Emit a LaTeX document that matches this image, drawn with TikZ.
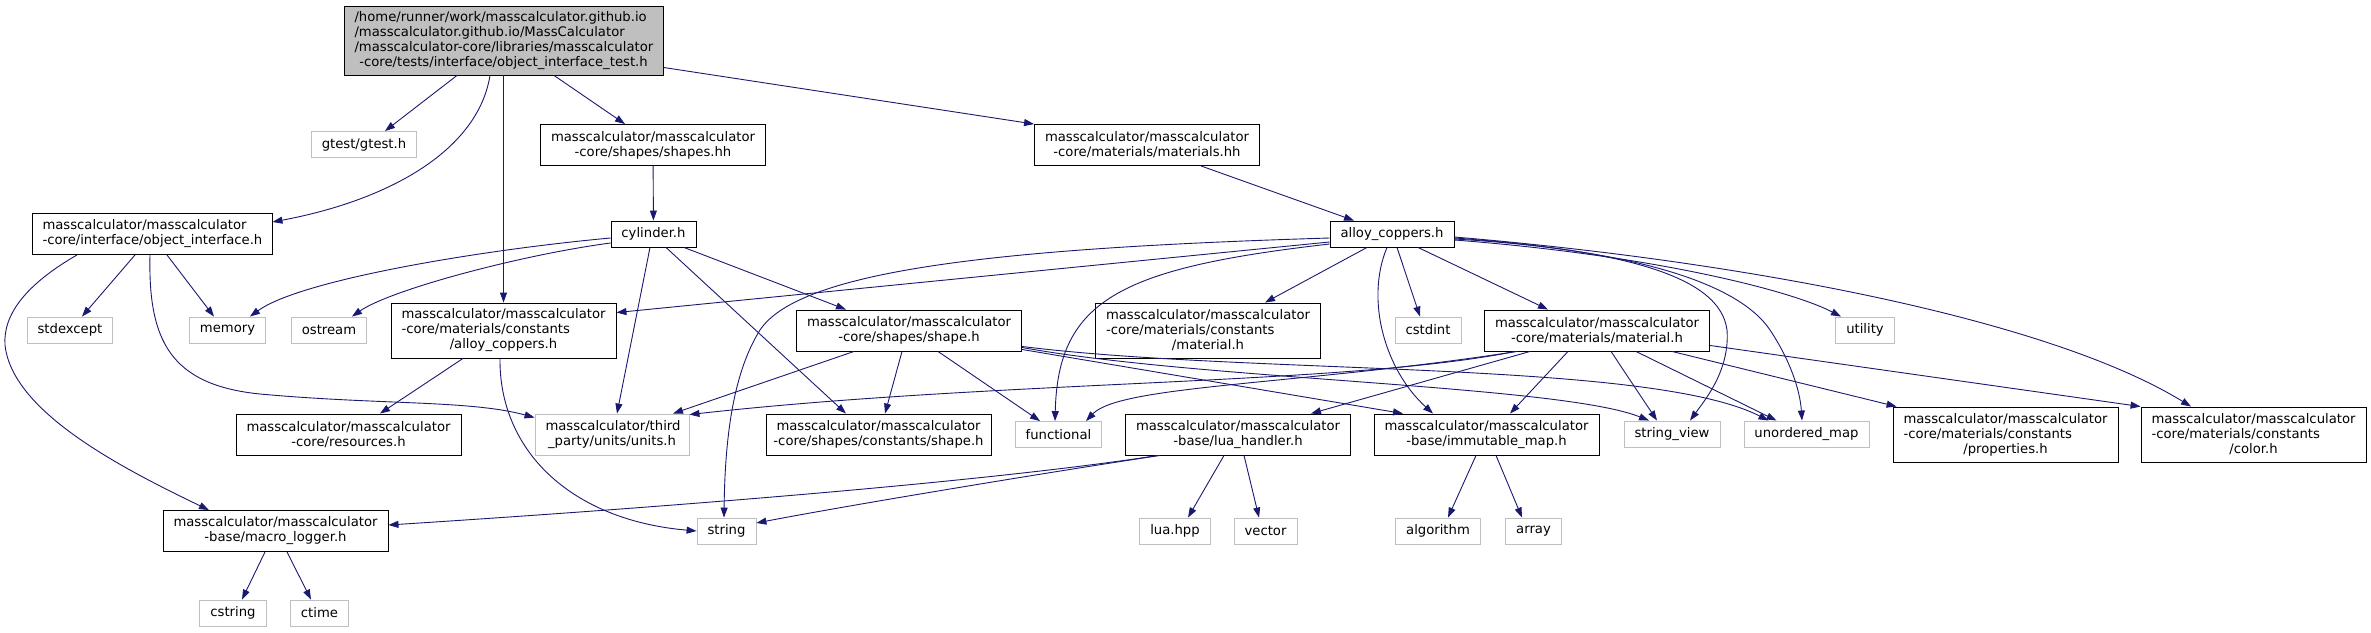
\documentclass[tikz,border=0pt]{standalone}
\usepackage{fontspec}
\setmainfont{DejaVu Sans}
\usetikzlibrary{arrows.meta}
\definecolor{depblue}{RGB}{25,25,112}
\definecolor{extgray}{RGB}{191,191,191}
\newcommand\incfont{\fontsize{13.2}{15}\selectfont\hyphenpenalty=10000 \exhyphenpenalty=10000 }
\newcommand\midline[1]{\makebox[\linewidth][c]{#1}}

\begin{document}
\begin{tikzpicture}[x=1pt, y=-1pt,
  hdr/.style={draw=black, fill=white, font=\incfont, inner xsep=10.5pt, inner ysep=2pt, minimum height=26pt, line width=0.9pt},
  ext/.style={hdr, draw=extgray},
  two/.style={text width=#1, align=left, minimum height=41pt}, two/.default=204pt,
  three/.style={two=#1, minimum height=55pt}, three/.default=204pt,
  dep/.style={draw=depblue, line width=0.9pt, -{Triangle[length=10pt,width=7pt]}}
]
  \useasboundingbox (0,0) rectangle (2371,632);

  % headers
  \node[hdr, fill=extgray, two=298pt, minimum height=69pt] (root) at (503.5,40.5) {/home/runner/work/masscalculator.github.io\\/masscalculator.github.io/MassCalculator\\/masscalculator-core/libraries/masscalculator\\\midline{-core/tests/interface/object\_interface\_test.h}};
  \node[ext] (gtest) at (364,144.5) {gtest/gtest.h};
  \node[hdr, two] (shapeshh) at (653,145) {masscalculator/masscalculator\\\midline{-core/shapes/shapes.hh}};
  \node[hdr, two] (materialshh) at (1147,145) {masscalculator/masscalculator\\\midline{-core/materials/materials.hh}};
  \node[hdr, two=219pt] (objiface) at (152,234) {masscalculator/masscalculator\\-core/interface/object\_interface.h};
  \node[hdr] (cylinder) at (653.5,234) {cylinder.h};
  \node[hdr] (alloy) at (1392,234) {alloy\_coppers.h};

  \node[hdr, three] (cuconst) at (503.5,330.5) {masscalculator/masscalculator\\-core/materials/constants\\\midline{/alloy\_coppers.h}};
  \node[ext] (stdexcept) at (70,330) {stdexcept};
  \node[ext] (memory) at (227.5,330) {memory};
  \node[ext] (ostream) at (329,330) {ostream};
  \node[hdr, two] (shape) at (909,330.5) {masscalculator/masscalculator\\\midline{-core/shapes/shape.h}};
  \node[hdr, three] (matconst) at (1208,330.5) {masscalculator/masscalculator\\-core/materials/constants\\\midline{/material.h}};
  \node[ext] (cstdint) at (1428,330) {cstdint};
  \node[hdr, two] (material) at (1597,330.5) {masscalculator/masscalculator\\\midline{-core/materials/material.h}};
  \node[ext] (utility) at (1865,330) {utility};

  \node[hdr, two] (resources) at (348.5,434.5) {masscalculator/masscalculator\\\midline{-core/resources.h}};
  \node[ext, two=133pt] (units) at (612,434.5) {masscalculator/third\\\midline{\_party/units/units.h}};
  \node[hdr, two] (shapeconst) at (878.5,434.5) {masscalculator/masscalculator\\\midline{-core/shapes/constants/shape.h}};
  \node[ext] (functional) at (1058.5,434.5) {functional};
  \node[hdr, two] (lua) at (1238,434.5) {masscalculator/masscalculator\\\midline{-base/lua\_handler.h}};
  \node[hdr, two] (immut) at (1486.5,434.5) {masscalculator/masscalculator\\\midline{-base/immutable\_map.h}};
  \node[ext] (strview) at (1672,434) {string\_view};
  \node[ext] (umap) at (1806.5,434) {unordered\_map};
  \node[hdr, three] (props) at (2005.5,434.5) {masscalculator/masscalculator\\-core/materials/constants\\\midline{/properties.h}};
  \node[hdr, three] (color) at (2253.5,434.5) {masscalculator/masscalculator\\-core/materials/constants\\\midline{/color.h}};

  \node[hdr, two] (macro) at (275.5,531) {masscalculator/masscalculator\\\midline{-base/macro\_logger.h}};
  \node[ext] (string) at (726.5,531) {string};
  \node[ext] (luahpp) at (1175,531) {lua.hpp};
  \node[ext] (vector) at (1265.5,531) {vector};
  \node[ext] (algorithm) at (1438,531) {algorithm};
  \node[ext] (array) at (1533.5,531) {array};
  \node[ext] (cstring) at (233,613) {cstring};
  \node[ext] (ctime) at (319.5,613) {ctime};

  % includes of the test header
  \draw[dep] ([xshift=-46.5pt]root.south) -- ([xshift=21pt]gtest.north);
  \draw[dep] ([xshift=-13.5pt]root.south) .. controls (478,150) and (390,200) .. ([yshift=12pt]objiface.east);
  \draw[dep] (root.south) -- (cuconst.north);
  \draw[dep] ([xshift=50.5pt]root.south) -- ([xshift=-28pt]shapeshh.north);
  \draw[dep] ([yshift=8pt]root.south east) -- (materialshh.north west);
  \draw[dep] (shapeshh) -- (cylinder);
  \draw[dep] ([xshift=54pt]materialshh.south) -- ([xshift=-38pt]alloy.north);

  % object_interface.h
  \draw[dep] ([xshift=-17pt]objiface.south) -- ([xshift=12pt]stdexcept.north);
  \draw[dep] ([xshift=15pt]objiface.south) -- ([xshift=-13.5pt]memory.north);
  \draw[dep] ([xshift=-2pt]objiface.south) .. controls (148,340) and (170,385) .. (260,394) .. controls (380,405) and (470,400) .. ([yshift=-4pt]units.north west);
  \draw[dep] ([xshift=-75pt]objiface.south) .. controls (25,285) and (3,315) .. (5,345) .. controls (12,410) and (115,465) .. ([xshift=-66.5pt]macro.north);

  % cylinder.h
  \draw[dep] ([yshift=-4pt]cylinder.west) .. controls (480,250) and (300,280) .. ([xshift=22.5pt]memory.north);
  \draw[dep] ([yshift=-9pt]cylinder.west) .. controls (520,255) and (390,290) .. ([xshift=23pt]ostream.north);
  \draw[dep] ([xshift=-3.5pt]cylinder.south) -- ([xshift=5pt]units.north);
  \draw[dep] ([xshift=12.5pt]cylinder.south) -- ([xshift=-32.5pt]shapeconst.north);
  \draw[dep] ([xshift=30.5pt]cylinder.south) -- ([xshift=-63pt]shape.north);

  % constants/alloy_coppers.h
  \draw[dep] ([xshift=-40.5pt]cuconst.south) -- ([xshift=31.5pt]resources.north);
  \draw[dep] ([xshift=-3.5pt]cuconst.south) .. controls (499,450) and (570,520) .. (string.west);

  % alloy_coppers.h
  \draw[dep] ([yshift=-8pt]alloy.west) -- ([yshift=-10pt]cuconst.north east);
  \draw[dep] ([yshift=-4pt]alloy.west) .. controls (1000,248) and (800,270) .. (760,330) .. controls (735,370) and (725,430) .. ([xshift=-2.5pt]string.north);
  \draw[dep] ([yshift=-10pt]alloy.west) .. controls (1120,268) and (1058,300) .. ([xshift=-3.5pt]functional.north);
  \draw[dep] ([xshift=-25pt]alloy.south) -- ([xshift=57pt]matconst.north);
  \draw[dep] ([xshift=5pt]alloy.south) -- ([xshift=-8pt]cstdint.north);
  \draw[dep] ([xshift=-5pt]alloy.south) .. controls (1365,300) and (1385,370) .. ([xshift=-53.5pt]immut.north);
  \draw[dep] ([xshift=26pt]alloy.south) -- ([xshift=-49pt]material.north);
  \draw[dep] ([yshift=-4pt]alloy.east) .. controls (1620,250) and (1720,275) .. (1727,330) .. controls (1730,370) and (1705,400) .. ([xshift=18pt]strview.north);
  \draw[dep] ([yshift=-5pt]alloy.east) .. controls (1640,250) and (1740,285) .. (1770,330) .. controls (1790,360) and (1800,390) .. ([xshift=-4.5pt]umap.north);
  \draw[dep] ([yshift=-6pt]alloy.east) .. controls (1650,255) and (1790,290) .. ([xshift=-24pt]utility.north);
  \draw[dep] ([yshift=-3pt]alloy.east) .. controls (1750,262) and (2050,320) .. ([xshift=-62.5pt]color.north);

  % material.h
  \draw[dep] ([xshift=-82pt]material.south) .. controls (1350,385) and (1000,380) .. ([yshift=-1pt]units.north east);
  \draw[dep] ([xshift=-80pt]material.south) .. controls (1300,385) and (1120,385) .. ([xshift=27.5pt]functional.north);
  \draw[dep] ([xshift=-67pt]material.south) -- ([xshift=73pt]lua.north);
  \draw[dep] ([xshift=-29pt]material.south) -- ([xshift=23.5pt]immut.north);
  \draw[dep] ([xshift=14pt]material.south) -- ([xshift=-15pt]strview.north);
  \draw[dep] ([xshift=39pt]material.south) -- ([xshift=-30pt]umap.north);
  \draw[dep] ([xshift=75pt]material.south) -- ([xshift=4pt]props.north west);
  \draw[dep] ([yshift=6pt]material.south east) -- (color.north west);

  % shape.h
  \draw[dep] ([xshift=-55pt]shape.south) -- ([xshift=61pt]units.north);
  \draw[dep] ([xshift=-7pt]shape.south) -- ([xshift=6.5pt]shapeconst.north);
  \draw[dep] ([xshift=29pt]shape.south) -- ([xshift=-18.5pt]functional.north);
  \draw[dep] ([yshift=2pt]shape.south east) -- ([xshift=-83.5pt]immut.north);
  \draw[dep] ([yshift=4pt]shape.south east) .. controls (1200,380) and (1560,385) .. ([xshift=-23pt]strview.north);
  \draw[dep] ([yshift=5pt]shape.south east) .. controls (1250,375) and (1650,360) .. ([xshift=-38pt]umap.north);

  % lua_handler.h
  \draw[dep] ([xshift=-80pt]lua.south) .. controls (1000,480) and (700,505) .. ([yshift=6pt]macro.east);
  \draw[dep] ([xshift=-78pt]lua.south) .. controls (1050,472) and (850,505) .. ([yshift=8pt]string.east);
  \draw[dep] ([xshift=-14pt]lua.south) -- ([xshift=13pt]luahpp.north);
  \draw[dep] ([xshift=6pt]lua.south) -- ([xshift=-6.5pt]vector.north);

  % immutable_map.h
  \draw[dep] ([xshift=-10.5pt]immut.south) -- ([xshift=10pt]algorithm.north);
  \draw[dep] ([xshift=9.5pt]immut.south) -- ([xshift=-11.5pt]array.north);

  % macro_logger.h
  \draw[dep] ([xshift=-10.5pt]macro.south) -- ([xshift=9pt]cstring.north);
  \draw[dep] ([xshift=11.5pt]macro.south) -- ([xshift=-8.5pt]ctime.north);
\end{tikzpicture}
\end{document}
